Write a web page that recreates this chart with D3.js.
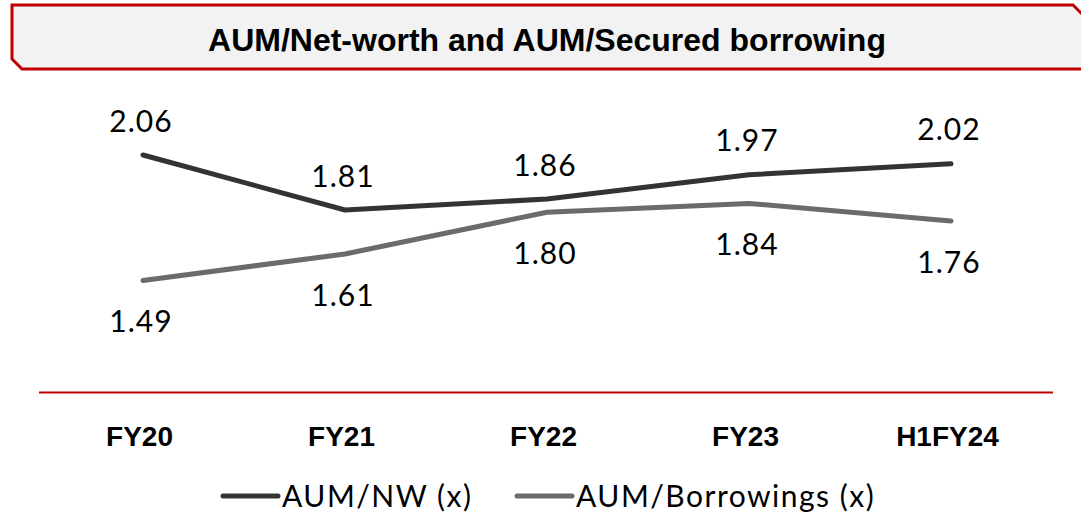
<!DOCTYPE html>
<html>
<head>
<meta charset="utf-8">
<script src="https://cdn.jsdelivr.net/npm/d3@7"></script>
<style>
  body { margin: 0; background: #fff; }
  svg { display: block; }
</style>
</head>
<body>
<svg id="chart" width="1081" height="515"></svg>
<script>
let categories = ["FY20", "FY21", "FY22", "FY23", "H1FY24"];
let aumNw = [2.06, 1.81, 1.86, 1.97, 2.02];
let aumBorrowings = [1.49, 1.61, 1.80, 1.84, 1.76];
let seriesNames = ["AUM/NW (x)", "AUM/Borrowings (x)"];
let titleText = "AUM/Net-worth and AUM/Secured borrowing";

function render() {
    let svg = d3.select("#chart");
    let red = "#c00000";
    let colors = ["#333333", "#6b6b6b"];
    let numFont = "Lato, 'Noto Sans', sans-serif";
    let boldFont = "'Liberation Sans', Arial, sans-serif";

    // title box with cut corners (right end runs off the page)
    let boxPath = d3.path();
    boxPath.moveTo(12, 5);
    boxPath.lineTo(1073, 5);
    boxPath.lineTo(1137, 69);
    boxPath.lineTo(22, 69);
    boxPath.lineTo(12, 59);
    boxPath.closePath();
    svg.append("path")
        .attr("d", boxPath.toString())
        .attr("fill", "#f2f2f2")
        .attr("stroke", red)
        .attr("stroke-width", 3);

    svg.append("text")
        .attr("x", 547)
        .attr("y", 40)
        .attr("dy", "0.35em")
        .attr("text-anchor", "middle")
        .attr("font-family", boldFont)
        .attr("font-weight", "bold")
        .attr("font-size", "32px")
        .attr("fill", "#000")
        .text(titleText);

    let xScale = d3.scalePoint().domain(categories).range([143, 951]);
    let yScale = d3.scaleLinear().domain([0.98, 2.5]).range([392.6, 58.2]);

    // red baseline
    svg.append("line")
        .attr("x1", 39).attr("x2", 1053)
        .attr("y1", yScale(0.98)).attr("y2", yScale(0.98))
        .attr("stroke", red)
        .attr("stroke-width", 2);

    // category labels
    let xAxis = svg.append("g")
        .attr("transform", "translate(-4," + 436 + ")")
        .call(d3.axisBottom(xScale).tickSize(0).tickPadding(0));
    xAxis.select(".domain").remove();
    xAxis.selectAll("text")
        .attr("dy", "0.35em")
        .attr("font-family", boldFont)
        .attr("font-weight", "bold")
        .attr("font-size", "28px")
        .attr("fill", "#000");

    let series = [
        { name: seriesNames[0], values: aumNw, color: colors[0], offset: -34 },
        { name: seriesNames[1], values: aumBorrowings, color: colors[1], offset: 41 }
    ];

    let line = d3.line()
        .x((d, i) => xScale(categories[i]))
        .y(d => yScale(d));

    series.forEach(s => {
        svg.append("path")
            .datum(s.values)
            .attr("d", line)
            .attr("fill", "none")
            .attr("stroke", s.color)
            .attr("stroke-width", 5)
            .attr("stroke-linecap", "round")
            .attr("stroke-linejoin", "round");

        svg.selectAll(null)
            .data(s.values)
            .enter()
            .append("text")
            .attr("x", (d, i) => xScale(categories[i]) - 2)
            .attr("y", d => yScale(d) + s.offset)
            .attr("dy", "0.35em")
            .attr("text-anchor", "middle")
            .attr("font-family", numFont)
            .attr("font-size", "30px")
            .attr("letter-spacing", "1px")
            .attr("fill", "#000")
            .text(d => d.toFixed(2));
    });

    // legend
    let legendX = [223, 517];
    let legend = svg.append("g").attr("transform", "translate(0,496)");
    series.forEach((s, i) => {
        legend.append("line")
            .attr("x1", legendX[i]).attr("x2", legendX[i] + 55)
            .attr("y1", 0).attr("y2", 0)
            .attr("stroke", s.color)
            .attr("stroke-width", 5)
            .attr("stroke-linecap", "round");
        legend.append("text")
            .attr("x", legendX[i] + 59)
            .attr("y", 0)
            .attr("dy", "0.35em")
            .attr("font-family", numFont)
            .attr("font-size", "30px")
            .attr("letter-spacing", "1.5px")
            .attr("fill", "#000")
            .text(s.name);
    });
}

document.addEventListener("DOMContentLoaded", render);
</script>
</body>
</html>
